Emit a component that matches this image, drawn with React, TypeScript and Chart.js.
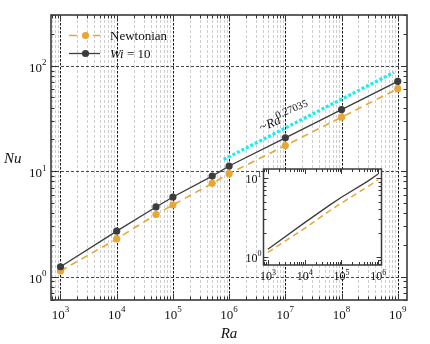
import React, { useEffect, useRef } from 'react';
import { Chart, registerables } from 'chart.js';
Chart.register(...registerables);

// ---- data ----
const raValues = [1e3, 1e4, 5e4, 1e5, 5e5, 1e6, 1e7, 1e8, 1e9];
const nuNewtonian = [1.13, 2.28, 3.88, 4.78, 7.67, 9.47, 17.5, 32.5, 60.6];
const nuWi10 = [1.24, 2.70, 4.58, 5.69, 8.99, 11.2, 20.7, 38.4, 71.1];
const fitRa = [8e5, 8.5e8];
const fitNu = [12.9, 86.4];
const fitExponent = '0.27035';
const insetMaxRa = 1e6;
const mainXExponents = [3, 4, 5, 6, 7, 8, 9];
const mainYExponents = [0, 1, 2];
const insetXExponents = [3, 4, 5, 6];
const insetYExponents = [0, 1];
const seriesNames = ['Newtonian', 'Wi', ' = 10'];
const axisTitles = { x: 'Ra', y: 'Nu' };

const ORANGE = '#e8a735';
const DARK = '#3c3c3c';
const CYAN = '#14eef4';
const SERIF = '"Liberation Serif", "Times New Roman", serif';
const MARKER_R = 3.6;

const pts = (xs: number[], ys: number[]) => xs.map((x, i) => ({ x, y: ys[i] }));

function drawPow(ctx: CanvasRenderingContext2D, exp: string, x: number, y: number, align: 'center' | 'right', baseSize: number, expSize: number, raise: number) {
  ctx.font = `${baseSize}px ${SERIF}`;
  const wb = ctx.measureText('10').width;
  ctx.font = `${expSize}px ${SERIF}`;
  const we = ctx.measureText(exp).width;
  const total = wb + we;
  const x0 = align === 'center' ? x - total / 2 : x - total;
  ctx.textAlign = 'left';
  ctx.textBaseline = 'alphabetic';
  ctx.fillStyle = '#111';
  ctx.font = `${baseSize}px ${SERIF}`;
  ctx.fillText('10', x0, y);
  ctx.font = `${expSize}px ${SERIF}`;
  ctx.fillText(exp, x0 + wb, y - raise);
}

function decadeRange(min: number, max: number) {
  return [Math.floor(Math.log10(min)), Math.ceil(Math.log10(max))];
}

function drawTicksFrame(chart: any, majorLen: number, minorLen: number, frameWidth: number) {
  const { ctx, chartArea: a } = chart;
  const xs = chart.scales.x, ys = chart.scales.y;
  ctx.save();
  ctx.setLineDash([]);
  ctx.strokeStyle = '#333';
  ctx.lineWidth = 1;
  ctx.beginPath();
  const [x0, x1] = decadeRange(xs.min, xs.max);
  for (let d = x0; d <= x1; d++) for (let m = 1; m <= 9; m++) {
    const v = m * Math.pow(10, d);
    if (v < xs.min || v > xs.max) continue;
    const px = Math.round(xs.getPixelForValue(v)) + 0.5;
    const L = m === 1 ? majorLen : minorLen;
    ctx.moveTo(px, a.bottom); ctx.lineTo(px, a.bottom - L);
    ctx.moveTo(px, a.top); ctx.lineTo(px, a.top + L);
  }
  const [y0, y1] = decadeRange(ys.min, ys.max);
  for (let d = y0; d <= y1; d++) for (let m = 1; m <= 9; m++) {
    const v = m * Math.pow(10, d);
    if (v < ys.min || v > ys.max) continue;
    const py = Math.round(ys.getPixelForValue(v)) + 0.5;
    const L = m === 1 ? majorLen : minorLen;
    ctx.moveTo(a.left, py); ctx.lineTo(a.left + L, py);
    ctx.moveTo(a.right, py); ctx.lineTo(a.right - L, py);
  }
  ctx.stroke();
  ctx.strokeStyle = '#3a3a3a';
  ctx.lineWidth = frameWidth;
  ctx.strokeRect(a.left, a.top, a.right - a.left, a.bottom - a.top);
  ctx.restore();
}

const mainGridPlugin = {
  id: 'mainGrid',
  beforeDatasetsDraw(chart: any) {
    const { ctx, chartArea: a } = chart;
    const xs = chart.scales.x, ys = chart.scales.y;
    ctx.save();
    // minor x grid
    ctx.strokeStyle = '#c2c2c2';
    ctx.lineWidth = 0.8;
    ctx.setLineDash([3, 2]);
    ctx.beginPath();
    const [x0, x1] = decadeRange(xs.min, xs.max);
    for (let d = x0; d <= x1; d++) for (let m = 2; m <= 9; m++) {
      const v = m * Math.pow(10, d);
      if (v < xs.min || v > xs.max) continue;
      const px = Math.round(xs.getPixelForValue(v)) + 0.5;
      ctx.moveTo(px, a.top); ctx.lineTo(px, a.bottom);
    }
    ctx.stroke();
    // major x grid
    ctx.strokeStyle = '#151515';
    ctx.lineWidth = 1;
    ctx.setLineDash([2.5, 1.5]);
    ctx.beginPath();
    mainXExponents.forEach((e) => {
      const px = Math.round(xs.getPixelForValue(Math.pow(10, e))) + 0.5;
      ctx.moveTo(px, a.top); ctx.lineTo(px, a.bottom);
    });
    ctx.stroke();
    // major y grid
    ctx.strokeStyle = '#4a4a4a';
    ctx.setLineDash([3, 2]);
    ctx.beginPath();
    mainYExponents.forEach((e) => {
      const py = Math.round(ys.getPixelForValue(Math.pow(10, e))) + 0.5;
      ctx.moveTo(a.left, py); ctx.lineTo(a.right, py);
    });
    ctx.stroke();
    ctx.restore();
  },
  afterDatasetsDraw(chart: any) {
    const { ctx } = chart;
    // fit annotation
    ctx.save();
    ctx.translate(261.5, 131.5);
    ctx.rotate(-0.40);
    ctx.fillStyle = '#111';
    ctx.textBaseline = 'alphabetic';
    ctx.textAlign = 'left';
    ctx.font = `13px ${SERIF}`;
    ctx.fillText('~', 0, 0);
    let x = ctx.measureText('~').width + 0.3;
    ctx.font = `italic 13px ${SERIF}`;
    ctx.fillText('Ra', x, 0);
    x += ctx.measureText('Ra').width - 2.5;
    ctx.font = `10.5px ${SERIF}`;
    ctx.fillText(fitExponent, x, -5.5);
    ctx.restore();
    drawTicksFrame(chart, 6, 3.5, 1.6);
  },
  afterDraw(chart: any) {
    const { ctx, chartArea: a } = chart;
    const xs = chart.scales.x, ys = chart.scales.y;
    ctx.save();
    mainXExponents.forEach((e) => {
      drawPow(ctx, String(e), xs.getPixelForValue(Math.pow(10, e)), a.bottom + 18.5, 'center', 13, 9, 6.5);
    });
    mainYExponents.forEach((e) => {
      drawPow(ctx, String(e), a.left - 4.5, ys.getPixelForValue(Math.pow(10, e)) + 6, 'right', 13, 9, 6.5);
    });
    // axis titles
    ctx.fillStyle = '#111';
    ctx.font = `italic 15px ${SERIF}`;
    ctx.textAlign = 'left';
    ctx.fillText(axisTitles.y, 4, 162.5);
    ctx.textAlign = 'center';
    ctx.fillText(axisTitles.x, (a.left + a.right) / 2, 338);
    // legend
    ctx.lineWidth = 1.6;
    ctx.strokeStyle = ORANGE;
    ctx.beginPath();
    ctx.moveTo(69, 35.5); ctx.lineTo(77, 35.5);
    ctx.moveTo(93, 35.5); ctx.lineTo(100, 35.5);
    ctx.stroke();
    ctx.fillStyle = ORANGE;
    ctx.beginPath(); ctx.arc(85.5, 35.5, MARKER_R, 0, Math.PI * 2); ctx.fill();
    ctx.strokeStyle = DARK;
    ctx.lineWidth = 1.3;
    ctx.beginPath(); ctx.moveTo(69, 53.5); ctx.lineTo(100, 53.5); ctx.stroke();
    ctx.fillStyle = DARK;
    ctx.beginPath(); ctx.arc(85.5, 53.5, MARKER_R, 0, Math.PI * 2); ctx.fill();
    ctx.fillStyle = '#111';
    ctx.textAlign = 'left';
    ctx.font = `13px ${SERIF}`;
    ctx.fillText(seriesNames[0], 110, 40);
    ctx.font = `italic 13px ${SERIF}`;
    ctx.fillText(seriesNames[1], 110, 58);
    const w = ctx.measureText(seriesNames[1]).width;
    ctx.font = `13px ${SERIF}`;
    ctx.fillText(seriesNames[2], 110 + w, 58);
    ctx.restore();
  },
};

const insetPlugin = {
  id: 'insetDecor',
  beforeDatasetsDraw(chart: any) {
    const { ctx, chartArea: a } = chart;
    ctx.save();
    ctx.fillStyle = '#fff';
    ctx.fillRect(a.left, a.top, a.right - a.left, a.bottom - a.top);
    ctx.restore();
  },
  afterDatasetsDraw(chart: any) {
    drawTicksFrame(chart, 5, 3, 1.5);
  },
  afterDraw(chart: any) {
    const { ctx, chartArea: a } = chart;
    const xs = chart.scales.x, ys = chart.scales.y;
    ctx.save();
    insetXExponents.forEach((e) => {
      drawPow(ctx, String(e), xs.getPixelForValue(Math.pow(10, e)), a.bottom + 15, 'center', 12, 8, 5.5);
    });
    insetYExponents.forEach((e) => {
      drawPow(ctx, String(e), a.left - 2, ys.getPixelForValue(Math.pow(10, e)) + 5, 'right', 12, 8, 5.5);
    });
    ctx.restore();
  },
};

function logAxis(min: number, max: number, size: number, horizontal: boolean) {
  return {
    type: 'logarithmic' as const,
    min,
    max,
    grid: { display: false },
    border: { display: false },
    ticks: { display: false },
    afterFit: (s: any) => {
      if (horizontal) s.height = size; else s.width = size;
    },
  };
}

export default function App() {
  const mainRef = useRef<HTMLCanvasElement>(null);
  const insetRef = useRef<HTMLCanvasElement>(null);

  useEffect(() => {
    const main = new Chart(mainRef.current as HTMLCanvasElement, {
      type: 'scatter',
      data: {
        datasets: [
          {
            label: 'fit',
            data: pts(fitRa, fitNu),
            showLine: true,
            borderColor: CYAN,
            borderWidth: 3.2,
            borderDash: [3, 2],
            pointRadius: 0,
          },
          {
            label: 'Wi = 10',
            data: pts(raValues, nuWi10),
            showLine: true,
            borderColor: DARK,
            backgroundColor: DARK,
            borderWidth: 1.3,
            pointRadius: MARKER_R,
            pointBorderWidth: 0,
          },
          {
            label: 'Newtonian',
            data: pts(raValues, nuNewtonian),
            showLine: true,
            borderColor: ORANGE,
            backgroundColor: ORANGE,
            borderWidth: 1.6,
            borderDash: [7, 5],
            pointRadius: MARKER_R,
            pointBorderWidth: 0,
          },
        ],
      },
      options: {
        responsive: false,
        maintainAspectRatio: false,
        animation: false,
        events: [],
        layout: { padding: { top: 15, right: 23, left: 0, bottom: 0 } },
        plugins: { legend: { display: false }, tooltip: { enabled: false } },
        scales: {
          x: logAxis(678, 1.46e9, 44, true),
          y: logAxis(0.614, 303, 51, false),
        },
      },
      plugins: [mainGridPlugin],
    } as any);

    const insetRa = raValues.filter((r) => r <= insetMaxRa);
    const inset = new Chart(insetRef.current as HTMLCanvasElement, {
      type: 'scatter',
      data: {
        datasets: [
          {
            label: 'Wi = 10',
            data: pts(insetRa, nuWi10),
            showLine: true,
            borderColor: DARK,
            borderWidth: 1.3,
            pointRadius: 0,
          },
          {
            label: 'Newtonian',
            data: pts(insetRa, nuNewtonian),
            showLine: true,
            borderColor: ORANGE,
            borderWidth: 1.5,
            borderDash: [6, 4],
            pointRadius: 0,
          },
        ],
      },
      options: {
        responsive: false,
        maintainAspectRatio: false,
        animation: false,
        events: [],
        layout: { padding: { top: 9, right: 16.5, left: 0, bottom: 0 } },
        plugins: { legend: { display: false }, tooltip: { enabled: false } },
        scales: {
          x: logAxis(759, 1.23e6, 25, true),
          y: logAxis(0.78, 13.0, 35.5, false),
        },
      },
      plugins: [insetPlugin],
    } as any);

    return () => {
      main.destroy();
      inset.destroy();
    };
  }, []);

  return (
    <div style={{ position: 'absolute', left: 0, top: 0, width: 430, height: 344, background: '#fff' }}>
      <canvas ref={mainRef} width={430} height={344} style={{ position: 'absolute', left: 0, top: 0, width: 430, height: 344 }} />
      <canvas ref={insetRef} width={170} height={130} style={{ position: 'absolute', left: 228, top: 160, width: 170, height: 130 }} />
    </div>
  );
}
